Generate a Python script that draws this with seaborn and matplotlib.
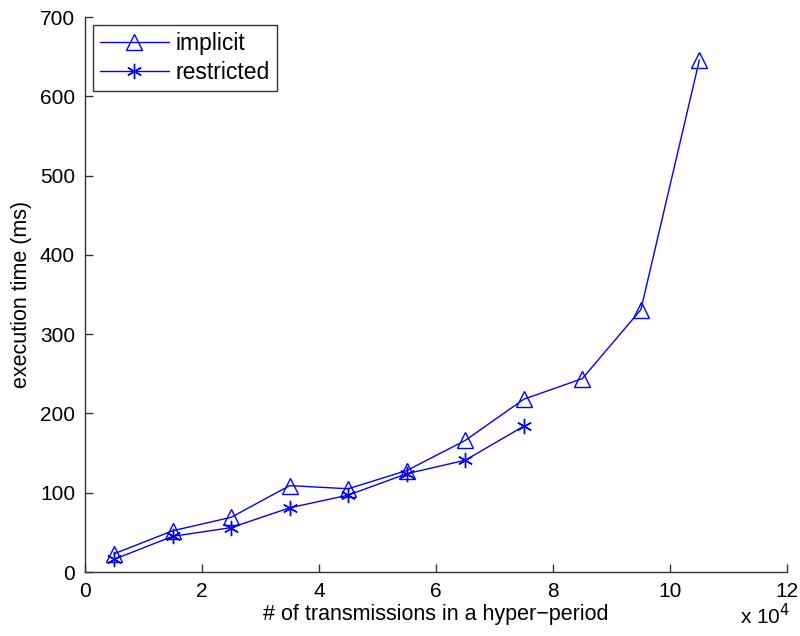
import matplotlib
matplotlib.use("Agg")
import matplotlib.pyplot as plt
import seaborn as sns
import pandas as pd
from matplotlib.ticker import FuncFormatter

# data
x_implicit = [5000, 15000, 25000, 35000, 45000, 55000, 65000, 75000, 85000, 95000, 105000]
y_implicit = [23, 52, 69, 109, 105, 128, 166, 218, 244, 331, 646]
x_restricted = [5000, 15000, 25000, 35000, 45000, 55000, 65000, 75000]
y_restricted = [16, 45, 56, 81, 97, 124, 141, 184]
x_ticks = [0, 20000, 40000, 60000, 80000, 100000, 120000]
y_ticks = [0, 100, 200, 300, 400, 500, 600, 700]

sns.set_style("white")
plt.rcParams['font.family'] = ['Liberation Sans', 'DejaVu Sans']
plt.rcParams['text.color'] = 'black'
plt.rcParams['axes.labelcolor'] = 'black'
plt.rcParams['xtick.color'] = 'black'
plt.rcParams['ytick.color'] = 'black'

fig = plt.figure(figsize=(8, 6.36), dpi=100)
ax = fig.add_axes([0.106, 0.1006, 0.878, 0.8725])

df_i = pd.DataFrame({"x": x_implicit, "y": y_implicit})
df_r = pd.DataFrame({"x": x_restricted, "y": y_restricted})

blue = (0, 0, 1)
sns.lineplot(data=df_i, x="x", y="y", ax=ax, color=blue, lw=1.0,
             marker="^", markersize=12, markerfacecolor="none",
             markeredgecolor=blue, markeredgewidth=1.0, label="implicit")
sns.lineplot(data=df_r, x="x", y="y", ax=ax, color=blue, lw=1.0,
             marker=(6, 2, 0), markersize=11, markeredgecolor=blue,
             markeredgewidth=1.0, label="restricted")

ax.set_xlim(0, 120000)
ax.set_ylim(0, 700)
ax.set_xticks(x_ticks)
ax.set_yticks(y_ticks)
ax.xaxis.set_major_formatter(FuncFormatter(lambda v, p: f"{v/1e4:g}"))

for s in ["top", "right"]:
    ax.spines[s].set_visible(False)
for s in ["left", "bottom"]:
    ax.spines[s].set_color("#333333")
    ax.spines[s].set_linewidth(1.0)

ax.tick_params(direction="in", length=6, width=1, color="#333333",
               labelcolor="black", labelsize=15, pad=7, bottom=True, left=True)
ax.set_xlabel("# of transmissions in a hyper\u2212period", fontsize=15.5,
              labelpad=2, color="black")
ax.set_ylabel("execution time (ms)", fontsize=15.5, labelpad=6, color="black")

fig.text(0.925, 0.012, r"x 10$^{4}$", fontsize=15, ha="left", va="bottom",
         color="black")

leg = ax.legend(loc="upper left", bbox_to_anchor=(0.012, 0.985), fontsize=16.5,
                frameon=True, fancybox=False, edgecolor="black",
                handlelength=3.0, borderpad=0.3, labelspacing=0.25,
                handletextpad=0.3, borderaxespad=0)
leg.get_frame().set_linewidth(1.0)
for t in leg.get_texts():
    t.set_color("black")

fig.savefig("out.png", dpi=100)
